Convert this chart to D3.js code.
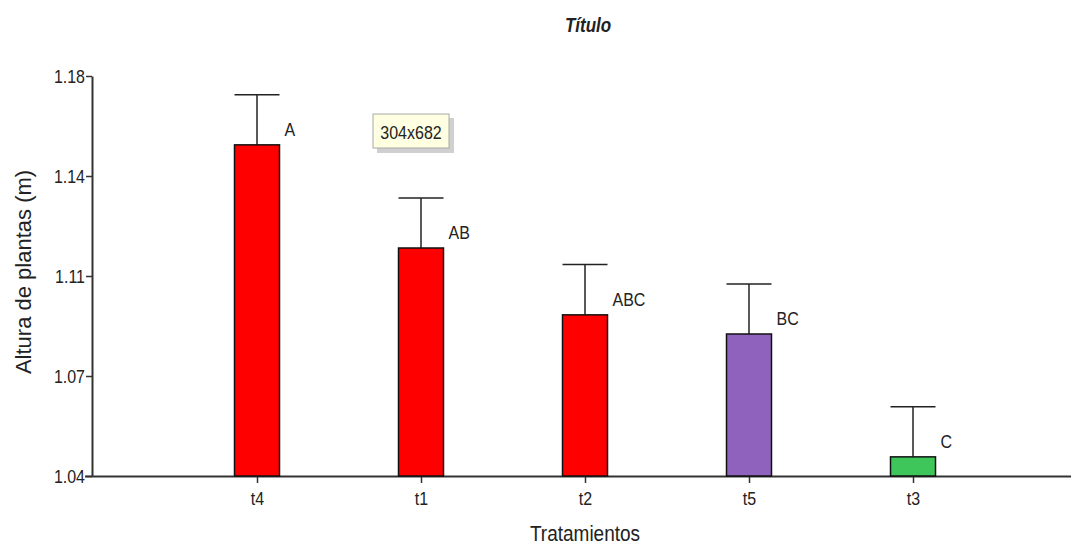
<!DOCTYPE html>
<html><head><meta charset="utf-8">
<script src="https://cdn.jsdelivr.net/npm/d3@7/dist/d3.min.js"></script>
<style>
body{margin:0;background:#fff;}
text{font-family:"Liberation Sans",Arial,sans-serif;fill:#222;}
</style></head>
<body><svg id="c" width="1073" height="548"></svg>
<script>
const categories = ["t4","t1","t2","t5","t3"];
const means = [1.1559, 1.1198, 1.0964, 1.0897, 1.0467];
const errors = [0.0175, 0.0175, 0.0176, 0.0175, 0.0175];
const letters = ["A","AB","ABC","BC","C"];
const colors = ["#ff0000","#ff0000","#ff0000","#8f62bd","#3ec65a"];
const yTickValues = [1.04, 1.075, 1.11, 1.145, 1.18];
const yTickLabels = ["1.04","1.07","1.11","1.14","1.18"];

const FF = '"Liberation Sans",Arial,sans-serif';
const SY = 1.18; // vertical stretch of glyphs as in the reference
const svg = d3.select("#c");
const x = d3.scalePoint().domain(categories).range([257, 913]);
const y = d3.scaleLinear().domain([1.04, 1.18]).range([476, 76]);
const bw = 45;

// Y axis
const yAxis = svg.append("g").attr("transform","translate(92,0)")
  .call(d3.axisLeft(y).tickValues(yTickValues).tickFormat((d,i)=>yTickLabels[i]).tickSize(6).tickSizeOuter(0));
yAxis.select(".domain").attr("stroke","#333").attr("stroke-width",2);
yAxis.selectAll(".tick line").attr("stroke","#333").attr("stroke-width",1.5);
yAxis.selectAll(".tick text").attr("font-size",16).attr("fill","#222").attr("x",-7)
  .attr("transform",`scale(1,${SY})`).style("font-family",FF);

// X axis
const xAxis = svg.append("g").attr("transform","translate(0,476)")
  .call(d3.axisBottom(x).tickSize(7).tickSizeOuter(0));
xAxis.select(".domain").attr("d","M85,0.5H1071").attr("stroke","#333").attr("stroke-width",2);
xAxis.selectAll(".tick line").attr("stroke","#333").attr("stroke-width",1.5);
xAxis.selectAll(".tick text").attr("font-size",16).attr("fill","#222").attr("y",16/SY)
  .attr("transform",`scale(1,${SY})`).style("font-family",FF);

const data = categories.map((c,i)=>({c, m:means[i], e:errors[i], l:letters[i], col:colors[i]}));

// error bars
const eb = svg.append("g");
eb.selectAll(".stem").data(data).enter().append("line")
  .attr("x1",d=>x(d.c)).attr("x2",d=>x(d.c))
  .attr("y1",d=>y(d.m)).attr("y2",d=>y(d.m+d.e))
  .attr("stroke","#222").attr("stroke-width",1.5);
eb.selectAll(".cap").data(data).enter().append("line")
  .attr("x1",d=>x(d.c)-bw/2).attr("x2",d=>x(d.c)+bw/2)
  .attr("y1",d=>y(d.m+d.e)).attr("y2",d=>y(d.m+d.e))
  .attr("stroke","#222").attr("stroke-width",1.5);

// bars
svg.append("g").selectAll("rect").data(data).enter().append("rect")
  .attr("x",d=>x(d.c)-bw/2).attr("width",bw)
  .attr("y",d=>y(d.m)).attr("height",d=>y(1.04)-y(d.m))
  .attr("fill",d=>d.col).attr("stroke","#111").attr("stroke-width",1.5);

// letters
svg.append("g").selectAll("text").data(data).enter().append("text")
  .attr("transform",d=>`translate(${x(d.c)+bw/2+5},${y(d.m)-9}) scale(1,${SY})`)
  .attr("font-size",16).text(d=>d.l);

// titles
svg.append("text").attr("transform",`translate(588,32) scale(1,${SY})`).attr("text-anchor","middle")
  .attr("font-size",17).attr("font-weight","bold").attr("font-style","italic").text("Título");
svg.append("text").attr("transform",`translate(585,541) scale(1,${SY})`).attr("text-anchor","middle")
  .attr("font-size",19).text("Tratamientos");
svg.append("text").attr("transform","translate(31,272) rotate(-90)").attr("text-anchor","middle")
  .attr("font-size",22).text("Altura de plantas (m)");

// tooltip
const tt = svg.append("g");
tt.append("rect").attr("x",377).attr("y",118).attr("width",77).attr("height",35).attr("fill","#b0b0b0").attr("opacity",0.6);
tt.append("rect").attr("x",373).attr("y",114).attr("width",76).attr("height",34).attr("fill","#ffffe1").attr("stroke","#aaa").attr("stroke-width",1);
tt.append("text").attr("transform",`translate(411,139) scale(1,${SY})`).attr("text-anchor","middle").attr("font-size",16).text("304x682");
</script></body></html>
